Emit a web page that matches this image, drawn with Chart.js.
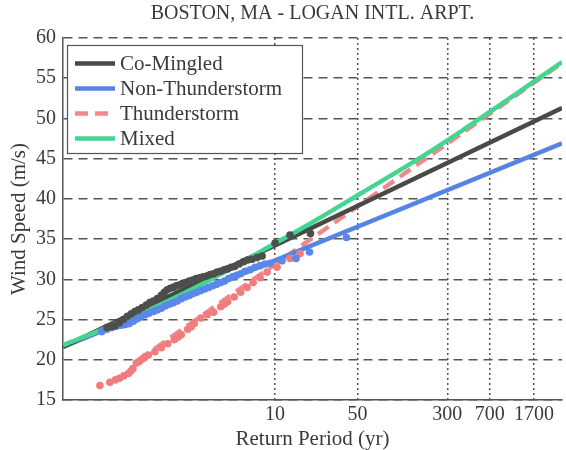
<!DOCTYPE html>
<html><head><meta charset="utf-8">
<script src="https://cdn.jsdelivr.net/npm/chart.js@4"></script>
<style>html,body{margin:0;padding:0;background:#fff;}</style>
</head><body>
<canvas id="c" width="566" height="450"></canvas>
<script>
// Return-period axis (Gumbel probability paper); x values are Gumbel reduced variates
const returnPeriodTicks = [10, 50, 300, 700, 1700];
const tickLabels = ['10', '50', '300', '700', '1700'];
const seriesNames = ['Co-Mingled', 'Non-Thunderstorm', 'Thunderstorm', 'Mixed'];

// fitted curves
const fitX = [-2, 8];
const coMingledFit = [21.6, 51.3];
const nonThunderFit = [21.6, 46.9];
const thunderFitX = [-0.5, 8];
const thunderFit = [19.9, 56.9];
const mixedX = [-2, -1, 0, 1, 2, 3, 4, 5, 6, 7, 8];
const mixedFit = [21.8, 24.3, 27.0, 30.1, 33.6, 37.1, 40.8, 44.5, 48.5, 52.7, 57.0];

// empirical (plotted) data
const coMingledObsX = [-1.12,-1.04,-0.96,-0.87,-0.79,-0.71,-0.63,-0.56,-0.49,-0.41,-0.33,-0.26,-0.19,-0.11,-0.03,0.03,0.09,0.15,0.21,0.27,0.33,0.40,0.46,0.53,0.60,0.67,0.74,0.81,0.88,0.95,1.02,1.09,1.16,1.23,1.30,1.37,1.44,1.53,1.62,1.70,1.79,1.89,1.99,2.25,2.55,2.96];
const coMingledObs  = [24.0,24.1,24.2,24.6,25.0,25.4,25.7,26.0,26.2,26.5,26.8,27.1,27.3,27.6,28.0,28.4,28.7,28.9,29.0,29.2,29.3,29.5,29.6,29.8,29.9,30.1,30.2,30.3,30.4,30.6,30.7,30.9,31.0,31.2,31.3,31.5,31.6,31.9,32.2,32.4,32.5,32.7,32.9,34.5,35.5,35.7];
const nonThunderObsX = [-1.22,-1.12,-1.02,-0.92,-0.83,-0.75,-0.67,-0.59,-0.51,-0.43,-0.35,-0.27,-0.19,-0.11,-0.03,0.05,0.13,0.21,0.29,0.37,0.45,0.53,0.60,0.68,0.76,0.84,0.92,1.00,1.08,1.16,1.24,1.32,1.40,1.48,1.56,1.65,1.75,1.85,1.95,2.05,2.15,2.39,2.67,2.94,3.68];
const nonThunderObs  = [23.5,23.8,24.0,24.2,24.3,24.4,24.5,24.8,25.1,25.4,25.6,25.8,26.0,26.2,26.4,26.7,26.9,27.1,27.3,27.6,27.8,28.0,28.2,28.4,28.6,28.8,29.0,29.2,29.4,29.6,29.8,30.1,30.3,30.5,30.7,31.0,31.2,31.5,31.7,31.9,32.0,32.3,32.6,33.4,35.2];
const thunderObsX = [-1.26,-1.06,-0.95,-0.87,-0.78,-0.69,-0.64,-0.60,-0.53,-0.47,-0.41,-0.35,-0.29,-0.16,-0.03,0.10,0.23,0.30,0.37,0.50,0.57,0.63,0.76,0.89,1.02,1.16,1.23,1.30,1.43,1.56,1.69,1.81,1.95,2.09,2.29,2.55,2.75];
const thunderObs  = [16.8,17.2,17.5,17.7,18.0,18.3,18.6,18.9,19.6,19.8,20.1,20.4,20.6,21.0,21.5,22.0,22.5,22.8,23.1,23.8,24.1,24.5,25.2,25.6,25.9,26.6,26.9,27.2,27.8,28.4,29.0,29.6,30.2,30.9,31.5,32.6,33.2];

const colors = { co: '#474a47', non: '#5584e4', th: '#f08a8a', mix: '#44d690' };
const dotColors = { co: '#4c4f4c', non: '#5a88ea', th: '#f07c7c' };

const pts = (xs, ys) => xs.map((x, i) => ({ x, y: ys[i] }));
const gumbel = T => -Math.log(-Math.log(1 - 1 / T));
const FONT = '"Liberation Serif", "Times New Roman", serif';
const TEXT = '#3a3a3a';

const datasets = [
  { label: seriesNames[0], type: 'line', data: pts(fitX, coMingledFit), borderColor: colors.co, borderWidth: 4.5, pointRadius: 0, order: 4 },
  { label: seriesNames[1], type: 'line', data: pts(fitX, nonThunderFit), borderColor: colors.non, borderWidth: 4.5, pointRadius: 0, order: 5 },
  { label: seriesNames[2], type: 'line', data: pts(thunderFitX, thunderFit), borderColor: colors.th, borderWidth: 4.5, borderDash: [13, 7], pointRadius: 0, order: 6 },
  { label: seriesNames[3], type: 'line', data: pts(mixedX, mixedFit), borderColor: colors.mix, borderWidth: 4.5, pointRadius: 0, cubicInterpolationMode: 'monotone', order: 3 },
  { label: 'co-obs', type: 'scatter', data: pts(coMingledObsX, coMingledObs), backgroundColor: dotColors.co, borderWidth: 0, pointRadius: 3.8, order: 0 },
  { label: 'non-obs', type: 'scatter', data: pts(nonThunderObsX, nonThunderObs), backgroundColor: dotColors.non, borderWidth: 0, pointRadius: 3.8, order: 1 },
  { label: 'th-obs', type: 'scatter', data: pts(thunderObsX, thunderObs), backgroundColor: dotColors.th, borderWidth: 0, pointRadius: 3.8, order: 2 }
];

const legendBox = {
  id: 'legendBox',
  afterDatasetsDraw(chart) {
    const { ctx, chartArea: a } = chart;
    const x0 = a.left + 4, y0 = a.top + 7, w = 235, h = 108;
    ctx.save();
    ctx.fillStyle = '#fff';
    ctx.fillRect(x0, y0, w, h);
    ctx.strokeStyle = '#555';
    ctx.lineWidth = 1.2;
    ctx.strokeRect(x0 + 0.5, y0 + 0.5, w, h);
    for (let i = 0; i < 4; i++) {
      const ds = chart.data.datasets[i];
      const y = y0 + 18.5 + i * 25;
      ctx.beginPath();
      ctx.setLineDash(ds.borderDash || []);
      ctx.strokeStyle = ds.borderColor;
      ctx.lineWidth = ds.borderWidth;
      ctx.moveTo(x0 + 8, y);
      ctx.lineTo(x0 + 48, y);
      ctx.stroke();
      ctx.setLineDash([]);
      ctx.fillStyle = TEXT;
      ctx.font = '21px ' + FONT;
      ctx.textBaseline = 'middle';
      ctx.textAlign = 'left';
      ctx.fillText(ds.label, x0 + 53, y + 1);
    }
    ctx.restore();
  }
};

new Chart(document.getElementById('c'), {
  data: { datasets },
  plugins: [legendBox],
  options: {
    responsive: false,
    devicePixelRatio: 1,
    animation: false,
    layout: { padding: 0 },
    plugins: {
      legend: { display: false },
      tooltip: { enabled: false },
      title: {
        display: true, text: 'BOSTON, MA - LOGAN INTL. ARPT.', fullSize: false,
        font: { family: FONT, size: 20, weight: 'normal', lineHeight: 1 }, color: TEXT,
        padding: { top: 4, bottom: 14 }
      }
    },
    scales: {
      x: {
        type: 'linear', min: -2, max: 8,
        afterBuildTicks: s => { s.ticks = returnPeriodTicks.map(T => ({ value: gumbel(T) })); },
        afterFit: s => { s.height = 50; },
        ticks: { callback: (v, i) => tickLabels[i], autoSkip: false, maxRotation: 0, padding: 5,
                 font: { family: FONT, size: 20, lineHeight: 1 }, color: TEXT },
        grid: { color: '#555', lineWidth: 1.5, drawTicks: false },
        border: { display: true, color: '#555', width: 1.5, dash: [2, 3] },
        title: { display: true, text: 'Return Period (yr)', color: TEXT,
                 font: { family: FONT, size: 21, lineHeight: 1 }, padding: { top: 0, bottom: 0 } }
      },
      y: {
        type: 'linear', min: 15, max: 60,
        afterFit: s => { s.width = 63; },
        ticks: { stepSize: 5, padding: 7, font: { family: FONT, size: 20, lineHeight: 1 }, color: TEXT },
        grid: { color: '#555', lineWidth: 1.5, drawTicks: false },
        border: { display: true, color: '#555', width: 1.5, dash: [9, 6] },
        title: { display: true, text: 'Wind Speed (m/s)', color: TEXT,
                 font: { family: FONT, size: 21, lineHeight: 1 }, padding: { top: 9, bottom: 0 } }
      }
    }
  }
});
</script>
</body></html>
